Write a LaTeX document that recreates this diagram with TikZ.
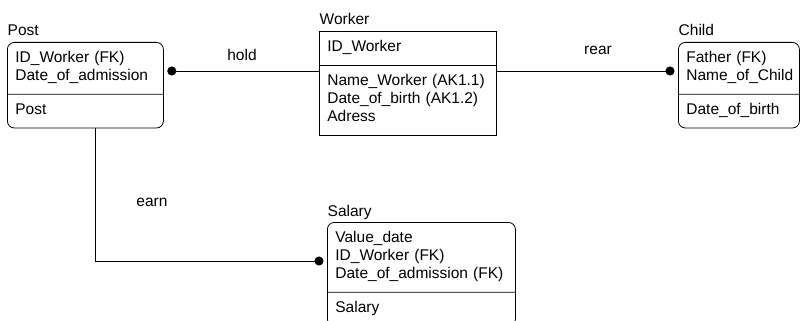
\documentclass[tikz,border=0pt]{standalone}
\usepackage{fontspec}
\setmainfont{Liberation Sans}
\usetikzlibrary{shapes.multipart, arrows.meta}
\tikzset{
    entity/.style={rectangle split, rectangle split parts=2, draw, line width=0.8pt,
        inner xsep=8pt, inner ysep=7.5pt, align=left, anchor=north west,
        font=\fontsize{15.5}{18}\selectfont},
    depentity/.style={entity, rounded corners=7pt},
    entitytitle/.style={anchor=base west, inner sep=0pt, yshift=6pt, xshift=0.5pt,
        font=\fontsize{15.5}{18}\selectfont},
    rellabel/.style={font=\fontsize{15.5}{18}\selectfont},
    rel/.style={line width=0.8pt, -{Circle[length=9pt]}, shorten >=3.5pt}
}

\begin{document}
\begin{tikzpicture}[x=1pt, y=-1pt]
            \path[use as bounding box, clip] (0,0) rectangle (800,321);

            \node[depentity, text width=140pt, label={[entitytitle]north west:Post}] (post) at (7,42)
                {ID\_Worker (FK)\strut\\Date\_of\_admission\strut\nodepart{two}Post\strut};
            \node[entity, text width=161pt, label={[entitytitle]north west:Worker}] (worker) at (319,31)
                {ID\_Worker\strut\nodepart{two}Name\_Worker (AK1.1)\strut\\Date\_of\_birth (AK1.2)\strut\\Adress\strut};
            \node[depentity, text width=105pt, label={[entitytitle]north west:Child}] (child) at (678,42)
                {Father (FK)\strut\\Name\_of\_Child\strut\nodepart{two}Date\_of\_birth\strut};
            \node[depentity, text width=172pt, label={[entitytitle]north west:Salary}] (salary) at (327,222)
                {Value\_date\strut\\ID\_Worker (FK)\strut\\Date\_of\_admission (FK)\strut\nodepart{two}Salary\strut};

            \coordinate (holdy) at (0,71);
            \coordinate (earnpt) at (95,261);

            \draw[rel] (worker.west |- holdy) -- (post.east |- holdy);
            \draw[rel] (worker.east |- holdy) -- (child.west |- holdy);
            \draw[rel] (post.south -| earnpt) |- (salary.west |- earnpt);

            \node[rellabel] (hold) at (242,55) {hold};
            \node[rellabel] (rear) at (598,50) {rear};
            \node[rellabel] (earn) at (152,202) {earn};
        \end{tikzpicture}
\end{document}
